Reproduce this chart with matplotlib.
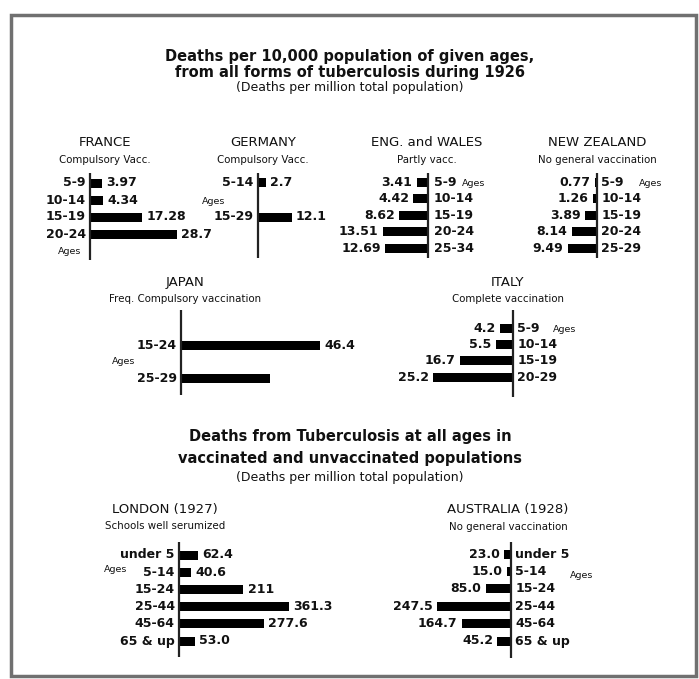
import matplotlib
matplotlib.use("Agg")
import matplotlib.pyplot as plt
from matplotlib.patches import Rectangle

# -------------------------------
# DATA
# -------------------------------
france_ages = ['5-9', '10-14', '15-19', '20-24']
france_vals = [3.97, 4.34, 17.28, 28.7]
france_labels = ['3.97', '4.34', '17.28', '28.7']

germany_ages = ['5-14', '15-29']
germany_vals = [2.7, 12.1]
germany_labels = ['2.7', '12.1']

eng_ages = ['5-9', '10-14', '15-19', '20-24', '25-34']
eng_vals = [3.41, 4.42, 8.62, 13.51, 12.69]
eng_labels = ['3.41', '4.42', '8.62', '13.51', '12.69']

nz_ages = ['5-9', '10-14', '15-19', '20-24', '25-29']
nz_vals = [0.77, 1.26, 3.89, 8.14, 9.49]
nz_labels = ['0.77', '1.26', '3.89', '8.14', '9.49']

japan_ages = ['15-24', '25-29']
japan_vals = [46.4, 29.6]
japan_labels = ['46.4', '']

italy_ages = ['5-9', '10-14', '15-19', '20-29']
italy_vals = [4.2, 5.5, 16.7, 25.2]
italy_labels = ['4.2', '5.5', '16.7', '25.2']

london_ages = ['under 5', '5-14', '15-24', '25-44', '45-64', '65 & up']
london_vals = [62.4, 40.6, 211, 361.3, 277.6, 53.0]
london_labels = ['62.4', '40.6', '211', '361.3', '277.6', '53.0']

austr_ages = ['under 5', '5-14', '15-24', '25-44', '45-64', '65 & up']
austr_vals = [23.0, 15.0, 85.0, 247.5, 164.7, 45.2]
austr_labels = ['23.0', '15.0', '85.0', '247.5', '164.7', '45.2']

W, H = 699, 679
fig = plt.figure(figsize=(W / 100, H / 100), dpi=100)
fig.patch.set_facecolor('white')

TXT = '#111111'


def fx(px):
    return px / W


def fy(py):
    return 1 - py / H


def panel(ages, vals, labels, axis_x, y0, d, top, bottom, scale, side,
          bar_px=9, lab_gap=3, val_gap=3, fs=9):
    # axes spanning the vertical line, x in data units with 0 on the line
    half = 160
    ax = fig.add_axes([fx(axis_x - half), fy(bottom), 2 * half / W, (bottom - top) / H])
    n = len(vals)
    ypos = list(range(n))
    ax.barh(ypos, vals, height=bar_px / d, color='black')
    ax.axvline(0, color='#222222', lw=1.6)
    if side == 'right':
        ax.set_xlim(-half / scale, half / scale)
    else:
        ax.set_xlim(half / scale, -half / scale)
    ax.set_ylim((bottom - y0) / d, -(y0 - top) / d)
    ax.axis('off')
    sgn = 1 if side == 'right' else -1
    for i in ypos:
        ax.annotate(ages[i], (0, i), xytext=(-sgn * lab_gap, 0), textcoords='offset points',
                    ha='right' if side == 'right' else 'left', va='center',
                    fontsize=fs, fontweight='bold', color=TXT)
        ax.annotate(labels[i], (vals[i], i), xytext=(sgn * val_gap, 0), textcoords='offset points',
                    ha='left' if side == 'right' else 'right', va='center',
                    fontsize=fs, fontweight='bold', color=TXT)
    return ax


def ptitle(x, y, name, sub, fs=9.5, sfs=7.4):
    fig.text(fx(x), fy(y), name, ha='center', va='center', fontsize=fs, color=TXT)
    fig.text(fx(x), fy(y + 17), sub, ha='center', va='center', fontsize=sfs, color=TXT)


def ages_txt(x, y):
    fig.text(fx(x), fy(y), 'Ages', ha='center', va='center', fontsize=6.8, color=TXT)


# frame
fig.patches.append(Rectangle((fx(11), fy(676)), fx(696) - fx(11), fy(15) - fy(676),
                             transform=fig.transFigure, fill=False,
                             edgecolor='#707070', lw=2.5))

# -------------------------------
# TITLES
# -------------------------------
fig.text(fx(350), fy(56), 'Deaths per 10,000 population of given ages,',
         ha='center', va='center', fontsize=10.5, fontweight='bold', color=TXT)
fig.text(fx(350), fy(73), 'from all forms of tuberculosis during 1926',
         ha='center', va='center', fontsize=10.5, fontweight='bold', color=TXT)
fig.text(fx(350), fy(88), '(Deaths per million total population)',
         ha='center', va='center', fontsize=9, color=TXT)

fig.text(fx(350), fy(437), 'Deaths from Tuberculosis at all ages in',
         ha='center', va='center', fontsize=10.5, fontweight='bold', color=TXT)
fig.text(fx(350), fy(458), 'vaccinated and unvaccinated populations',
         ha='center', va='center', fontsize=10.5, fontweight='bold', color=TXT)
fig.text(fx(350), fy(478), '(Deaths per million total population)',
         ha='center', va='center', fontsize=9, color=TXT)

# -------------------------------
# TOP ROW
# -------------------------------
ptitle(105, 143, 'FRANCE', 'Compulsory Vacc.')
panel(france_ages, france_vals, france_labels, 90, 183, 17, 173, 260, 3.03, 'right')
ages_txt(70, 251)

ptitle(263, 143, 'GERMANY', 'Compulsory Vacc.')
panel(germany_ages, germany_vals, germany_labels, 258, 182, 35, 173, 258, 2.8, 'right')
ages_txt(214, 201)

ptitle(427, 143, 'ENG. and WALES', 'Partly vacc.')
panel(eng_ages, eng_vals, eng_labels, 428, 182, 16.6, 173, 258, 3.35, 'left', lab_gap=4)
ages_txt(474, 184)

ptitle(597, 143, 'NEW ZEALAND', 'No general vaccination')
panel(nz_ages, nz_vals, nz_labels, 597, 182, 16.6, 173, 258, 3.1, 'left')
ages_txt(651, 184)

# -------------------------------
# MIDDLE ROW
# -------------------------------
ptitle(185, 282, 'JAPAN', 'Freq. Compulsory vaccination')
panel(japan_ages, japan_vals, japan_labels, 181, 345, 33, 310, 395, 3.0, 'right')
ages_txt(124, 361)

ptitle(508, 282, 'ITALY', 'Complete vaccination')
panel(italy_ages, italy_vals, italy_labels, 513, 328, 16.4, 310, 397, 3.17, 'left')
ages_txt(565, 329)

# -------------------------------
# BOTTOM ROW
# -------------------------------
ptitle(165, 509, 'LONDON (1927)', 'Schools well serumized')
panel(london_ages, london_vals, london_labels, 179, 555, 17.2, 542, 657, 0.305, 'right')
ages_txt(116, 570)

ptitle(508, 510, 'AUSTRALIA (1928)', 'No general vaccination')
panel(austr_ages, austr_vals, austr_labels, 511, 554, 17.4, 542, 658, 0.3, 'left')
ages_txt(582, 576)

plt.savefig('out.png', dpi=100)
